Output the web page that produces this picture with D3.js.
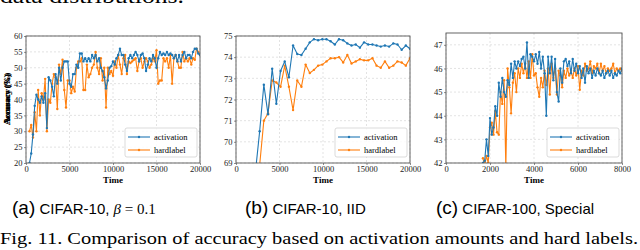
<!DOCTYPE html>
<html>
<head>
<meta charset="utf-8">
<script src="https://cdn.jsdelivr.net/npm/d3@7"></script>
<style>
  body { margin: 0; background: #fff; }
  svg { display: block; }
  .tick text { font-family: 'Liberation Serif', 'DejaVu Serif', serif; font-size: 8.5px; fill: #222; }
</style>
</head>
<body>
<div id="chart"></div>
<script>
// ---- data ----
// panel (a): CIFAR-10, beta = 0.1, evaluated every 200 time steps starting at 400
const aStart = 400, aStep = 200;
const aActivation = [20,23,29,38,41.5,40,39,41,39,42,31,47,46,44,41,48,45,50,46,50,52,52,52,45,44,48,48,51,50,54.5,
  54.5,52,53,52,53,52,54,53,54,52,53,50,49,47,43.5,46,50,50.5,52,51,53,54,56,54,54,51,49,53,54,53,
  54,55,54,52,54,54.5,53,49,51,53,52,54,53,50,53,55,54,54.5,54,55,54,54.5,54,53,54,52,54,52,54,55,
  53,54,54,53,55,56,56,54.5,54];
const aHardlabel = [30,32,28,36,30,43,35,42,40,46.5,30,40,39,45,48,47,37,51,48,52.5,43,37.5,46,46,42,44,42.5,50,52,52,
  53,43,43,51,47,48,50,51,55,50,48,53,46,50,37.5,50,48,49,47.5,52,50,54,51,48,53,54,48,52,51.5,52,
  52.5,53,49,52,53,50,52,53,52,50,51,53,52,55.5,45,46,46,53,52,53,50,54,45,53,54,52,50,50,55,52,
  53,52,53,51,53,52.5,56,55,54];

// panel (b): CIFAR-10, IID, evaluated every 480 time steps starting at 2240
const bStart = 2240, bStep = 480;
const bActivation = [68.6,70.5,72.7,71.3,73.45,71.8,73.35,73.8,73.05,74.55,74.15,74.1,74.4,74.7,74.85,74.8,74.85,74.85,
  74.75,74.6,74.85,74.8,74.65,74.55,74.6,74.45,74.7,74.6,74.6,74.55,74.5,74.55,74.5,74.65,74.6,74.35,74.55,74.4];
const bHardlabel = [67.5,68.9,71.0,71.35,72.9,72.8,72.6,73.6,72.6,71.5,72.9,72.6,73.65,73.25,73.4,73.6,73.65,73.8,
  73.95,73.95,74.0,73.75,74.1,73.7,73.8,73.9,73.85,73.85,73.95,73.6,73.5,73.8,73.5,73.6,73.8,73.75,73.6,73.95];

// panel (c): CIFAR-100, Special, evaluated every 80 time steps starting at 1680
const cStart = 1680, cStep = 80;
const cActivation = [42.0,42.1,43.0,42.3,43.9,43.2,43.5,44.4,44.0,45.4,44.8,45.6,45.0,44.8,45.5,45.3,46.2,45.6,46.3,46.0,
  46.3,46.1,46.4,46.5,46.0,47.1,45.6,46.6,46.5,46.3,46.6,46.2,46.7,46.0,46.5,45.8,44.0,46.5,45.8,46.5,
  45.5,46.4,45.0,44.6,46.0,45.4,46.3,46.4,46.1,46.3,45.8,46.4,45.9,46.2,45.8,46.1,45.6,46.0,45.4,46.1,
  45.8,46.0,45.6,45.9,45.7,46.0,45.8,45.7,45.9,45.6,45.8,45.9,45.7,45.9,45.6,45.8,45.7,45.9,45.8,46.0];
const cHardlabel = [42.2,41.9,42.3,42.0,43.5,43.7,43.2,44.2,43.3,43.2,45.0,44.5,45.5,41.8,46.0,45.2,44.1,45.4,45.8,45.0,
  46.0,45.6,46.2,45.8,46.2,45.6,46.3,45.6,46.6,45.7,45.8,45.2,44.8,45.6,45.2,45.9,45.3,46.0,44.9,46.2,
  45.6,46.0,44.9,45.9,45.7,45.2,45.9,45.6,46.0,45.7,45.9,45.6,46.0,45.7,46.1,45.1,45.9,45.7,46.2,45.9,
  46.0,46.3,45.8,46.1,46.0,46.2,45.8,46.2,45.9,46.1,45.8,46.0,45.9,46.0,46.2,45.8,46.0,45.9,46.0,45.9];

const aYTicks = [20,25,30,35,40,45,50,55,60];
const bYTicks = [69,70,71,72,73,74,75];
const cYTicks = [42,43,44,45,46,47];
const abXTicks = [0,5000,10000,15000,20000];
const cXTicks = [0,2000,4000,6000,8000];
const seriesNames = ['activation', 'hardlabel'];
const colors = ['#1f77b4', '#ff7f0e'];

const svg = d3.select('#chart').append('svg')
  .attr('width', 640).attr('height', 250);

const serif = "'Liberation Serif', 'DejaVu Serif', serif";
const sans = "'Liberation Sans', Arial, sans-serif";

// cut-off line of text from the page above
svg.append('text')
  .attr('x', 0).attr('y', 3)
  .attr('font-family', serif).attr('font-size', 21)
  .attr('textLength', 184).attr('lengthAdjust', 'spacingAndGlyphs')
  .text('data distributions.');

function toPoints(start, step, values) {
  return values.map((v, i) => ({ t: start + i * step, v: v }));
}

function panel(id, box, xDomain, yDomain, xTicks, yTicks, series) {
  const g = svg.append('g').attr('transform', `translate(${box.left},${box.top})`);
  const w = box.right - box.left, h = box.bottom - box.top;

  const x = d3.scaleLinear().domain(xDomain).range([0, w]);
  const y = d3.scaleLinear().domain(yDomain).range([h, 0]);

  // grid
  g.append('g').selectAll('line').data(xTicks).join('line')
    .attr('x1', d => x(d)).attr('x2', d => x(d)).attr('y1', 0).attr('y2', h)
    .attr('stroke', '#d0d0d0').attr('stroke-width', 0.6).attr('stroke-dasharray', '2,2');
  g.append('g').selectAll('line').data(yTicks).join('line')
    .attr('x1', 0).attr('x2', w).attr('y1', d => y(d)).attr('y2', d => y(d))
    .attr('stroke', '#d0d0d0').attr('stroke-width', 0.6).attr('stroke-dasharray', '2,2');

  // axes
  const xAxis = g.append('g').attr('transform', `translate(0,${h})`)
    .call(d3.axisBottom(x).tickValues(xTicks).tickSize(2).tickPadding(1).tickFormat(d3.format('d')));
  const yAxis = g.append('g')
    .call(d3.axisLeft(y).tickValues(yTicks).tickSize(2).tickPadding(1.5).tickFormat(d3.format('d')));
  [xAxis, yAxis].forEach(a => {
    a.select('.domain').remove();
    a.selectAll('.tick line').attr('stroke', '#444').attr('stroke-width', 0.6);
  });

  // clip + lines
  svg.append('clipPath').attr('id', 'clip-' + id)
    .append('rect').attr('width', w).attr('height', h);
  const plot = g.append('g').attr('clip-path', `url(#clip-${id})`);
  const line = d3.line().x(d => x(d.t)).y(d => y(d.v));

  series.slice().reverse().forEach((s, ri) => {
    const k = series.length - 1 - ri;
    plot.append('path').datum(s)
      .attr('fill', 'none').attr('stroke', colors[k]).attr('stroke-width', 1.1)
      .attr('stroke-linejoin', 'round').attr('d', line);
    plot.append('g').selectAll('circle').data(s).join('circle')
      .attr('cx', d => x(d.t)).attr('cy', d => y(d.v)).attr('r', 1.2)
      .attr('fill', colors[k]);
  });

  // frame
  g.append('rect').attr('width', w).attr('height', h)
    .attr('fill', 'none').attr('stroke', '#555').attr('stroke-width', 0.9);

  // axis labels
  g.append('text')
    .attr('x', w / 2).attr('y', h + 19.5)
    .attr('text-anchor', 'middle')
    .attr('font-family', serif).attr('font-weight', 'bold').attr('font-size', 9)
    .text('Time');
  g.append('text')
    .attr('transform', `translate(${-box.left + box.ylab},${h / 2}) rotate(-90)`)
    .attr('text-anchor', 'middle').attr('dominant-baseline', 'central')
    .attr('font-family', serif).attr('font-weight', 'bold').attr('font-size', 8.5)
    .text('Accuracy (%)');

  // legend
  const lg = g.append('g').attr('transform', `translate(${w - 75},${h - 35})`);
  lg.append('rect').attr('width', 72).attr('height', 29).attr('rx', 2)
    .attr('fill', '#fff').attr('fill-opacity', 0.85)
    .attr('stroke', '#ccc').attr('stroke-width', 0.7);
  seriesNames.forEach((name, i) => {
    const yy = 9 + i * 13;
    lg.append('line').attr('x1', 3).attr('x2', 25).attr('y1', yy).attr('y2', yy)
      .attr('stroke', colors[i]).attr('stroke-width', 1.1);
    lg.append('circle').attr('cx', 14).attr('cy', yy).attr('r', 1.2).attr('fill', colors[i]);
    lg.append('text').attr('x', 29).attr('y', yy).attr('dominant-baseline', 'central')
      .attr('font-family', serif).attr('font-size', 8.5).text(name);
  });
}

panel('a', { left: 26, right: 200, top: 36, bottom: 163, ylab: 7 }, [0, 20000], [20, 60], abXTicks, aYTicks,
  [toPoints(aStart, aStep, aActivation), toPoints(aStart, aStep, aHardlabel)]);
panel('b', { left: 236, right: 410, top: 36, bottom: 163, ylab: 217 - 210 }, [0, 20000], [69, 75], abXTicks, bYTicks,
  [toPoints(bStart, bStep, bActivation), toPoints(bStart, bStep, bHardlabel)]);
panel('c', { left: 446, right: 622, top: 33, bottom: 163, ylab: 427 - 420 }, [0, 8000], [42, 47.5], cXTicks, cYTicks,
  [toPoints(cStart, cStep, cActivation), toPoints(cStart, cStep, cHardlabel)]);

// sub-captions
function subCaption(x, letter, parts) {
  const t = svg.append('text').attr('x', x).attr('y', 214).attr('font-family', sans);
  t.append('tspan').attr('font-size', 19).text('(' + letter + ')');
  parts.forEach(p => {
    t.append('tspan')
      .attr('font-family', p.math ? serif : sans)
      .attr('font-style', p.italic ? 'italic' : null)
      .attr('font-size', 15).text(p.s);
  });
}
subCaption(12, 'a', [{ s: ' CIFAR-10, ' }, { s: 'β', math: true, italic: true }, { s: ' = 0.1', math: true }]);
subCaption(245, 'b', [{ s: ' CIFAR-10, IID' }]);
subCaption(436, 'c', [{ s: ' CIFAR-100, Special' }]);

svg.append('text')
  .attr('x', 0).attr('y', 244)
  .attr('font-family', serif).attr('font-size', 17.5)
  .attr('textLength', 638).attr('lengthAdjust', 'spacingAndGlyphs')
  .text('Fig. 11.  Comparison of accuracy based on activation amounts and hard labels.');
</script>
</body>
</html>
